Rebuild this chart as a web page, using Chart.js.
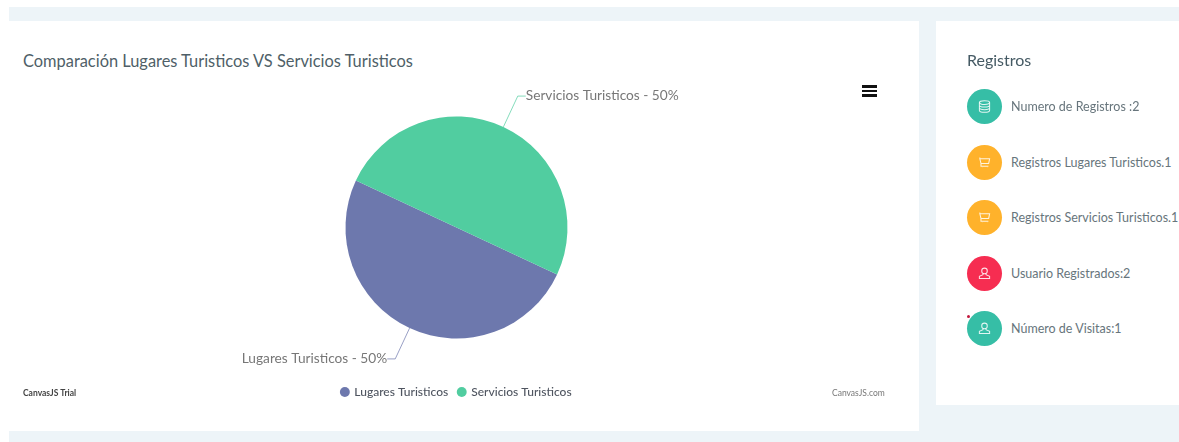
<!DOCTYPE html>
<html lang="es">
<head>
<meta charset="utf-8">
<title>Comparación Lugares Turisticos VS Servicios Turisticos</title>
<script src="https://cdn.jsdelivr.net/npm/chart.js@4/dist/chart.umd.min.js"></script>
<style>
    html, body { margin: 0; padding: 0; background: #fff; overflow: hidden; }
    body { width: 1179px; height: 442px; position: relative; font-family: Lato, "Open Sans", sans-serif; }
    .page-bg { position: absolute; left: 9px; top: 7px; right: 0; bottom: 0; background: #edf4f8; }
    .card { position: absolute; background: #fff; }
    #chartCard { left: 9px; top: 21px; width: 910px; height: 410px; }
    #statsCard { left: 936px; top: 21px; width: 243px; height: 384px; }
    #chartCard h4 { position: absolute; left: 14px; top: 30px; margin: 0; font-size: 16.4px; font-weight: 400; color: #4f5f68; line-height: 20px; white-space: nowrap; }
    #statsCard h4 { position: absolute; left: 31px; top: 29px; margin: 0; font-size: 16px; font-weight: 400; color: #455a64; line-height: 20px; }
    #pieCanvas { position: absolute; left: 0; top: 0; }
    .menu { position: absolute; left: 853px; top: 64px; width: 15px; height: 12px; border-top: 3px solid #111; border-bottom: 3px solid #111; box-sizing: border-box; }
    .menu::after { content: ""; position: absolute; left: 0; right: 0; top: 2px; height: 2px; background: #111; }
    .credit { position: absolute; top: 366px; font-size: 8.5px; line-height: 12px; color: #777; white-space: nowrap; }
    .stat { position: absolute; left: 31px; height: 35px; }
    .stat .dot { position: absolute; left: 0; top: 0; width: 35px; height: 35px; border-radius: 50%; display: flex; align-items: center; justify-content: center; }
    .stat span { position: absolute; left: 44px; top: 8px; font-size: 12.5px; line-height: 19px; color: #67757c; white-space: nowrap; }
    .marker { position: absolute; left: 31px; top: 294px; width: 3px; height: 3px; border-radius: 50%; background: #c2183c; }
</style>
</head>
<body>
<div class="page-bg"></div>

<div class="card" id="chartCard">
    <h4>Comparación Lugares Turisticos VS Servicios Turisticos</h4>
    <canvas id="pieCanvas" width="910" height="410"></canvas>
    <div class="menu"></div>
    <div class="credit" style="left:14px;font-weight:700;color:#444;">CanvasJS Trial</div>
    <div class="credit" style="left:823px;">CanvasJS.com</div>
</div>

<div class="card" id="statsCard">
    <h4>Registros</h4>
    <div id="statList"></div>
    <div class="marker"></div>
</div>

<script>
const categories = ['Lugares Turisticos', 'Servicios Turisticos'];
const values = [1, 1];
const sliceColors = ['#6d78ad', '#51cda0'];

const statLabels = [
    'Numero de Registros :2',
    'Registros Lugares Turisticos.1',
    'Registros Servicios Turisticos.1',
    'Usuario Registrados:2',
    'Número de Visitas:1'
];
const statColors = ['#36bea6', '#ffb22b', '#ffb22b', '#f62d51', '#36bea6'];
const statIcons = ['db', 'cart', 'cart', 'user', 'user'];
const statTops = [68, 124, 179, 235, 290];

const iconPaths = {
    db: '<ellipse cx="7" cy="2.8" rx="5.5" ry="2"/><path d="M1.5 2.8v8.4c0 1.1 2.5 2 5.5 2s5.5-.9 5.5-2V2.8M1.5 5.6c0 1.1 2.5 2 5.5 2s5.5-.9 5.5-2M1.5 8.4c0 1.1 2.5 2 5.5 2s5.5-.9 5.5-2"/>',
    cart: '<path d="M2 3h10.5l-1 5H3.2zM3.2 8v3h8M2 3V1.5M4.5 12.5h.1M10 12.5h.1"/>',
    user: '<circle cx="7" cy="4.2" r="3"/><path d="M5.4 7v1.2L1.5 10v2.5h11V10L8.6 8.2V7"/>'
};

function buildStats() {
    const list = document.getElementById('statList');
    statLabels.forEach((label, i) => {
        const row = document.createElement('div');
        row.className = 'stat';
        row.style.top = statTops[i] + 'px';
        row.innerHTML = `<div class="dot" style="background:${statColors[i]}">
            <svg width="13" height="13" viewBox="0 0 14 14" fill="none" stroke="#fff" stroke-opacity="0.85" stroke-width="1.1">${iconPaths[statIcons[i]]}</svg>
        </div><span>${label}</span>`;
        list.appendChild(row);
    });
}

// Leader lines and "name - percent" labels next to each slice
const sliceLabels = {
    id: 'sliceLabels',
    afterDatasetsDraw(chart) {
        const { ctx } = chart;
        const total = values.reduce((a, b) => a + b, 0);
        chart.getDatasetMeta(0).data.forEach((arc, i) => {
            const mid = (arc.startAngle + arc.endAngle) / 2;
            const dx = Math.cos(mid);
            const dy = Math.sin(mid);
            const side = dx >= 0 ? 1 : -1;
            const elbowX = arc.x + dx * (arc.outerRadius + 34);
            const elbowY = arc.y + dy * (arc.outerRadius + 34);

            ctx.save();
            ctx.strokeStyle = sliceColors[i];
            ctx.globalAlpha = 0.7;
            ctx.lineWidth = 1;
            ctx.beginPath();
            ctx.moveTo(arc.x + dx * arc.outerRadius, arc.y + dy * arc.outerRadius);
            ctx.lineTo(elbowX, elbowY);
            ctx.lineTo(elbowX + side * 8, elbowY);
            ctx.stroke();
            ctx.restore();

            ctx.save();
            ctx.font = '13.7px Lato, sans-serif';
            ctx.fillStyle = '#777';
            ctx.textAlign = side > 0 ? 'left' : 'right';
            ctx.textBaseline = 'middle';
            const pct = Math.round(values[i] / total * 100);
            ctx.fillText(`${categories[i]} - ${pct}%`, elbowX + side * 8, elbowY);
            ctx.restore();
        });
    }
};

function initPieChart() {
    const ctx = document.getElementById('pieCanvas');
    new Chart(ctx.getContext('2d'), {
        type: 'pie',
        data: {
            labels: categories,
            datasets: [{
                data: values,
                backgroundColor: sliceColors,
                borderWidth: 0,
                radius: 111,
                rotation: 115
            }]
        },
        options: {
            responsive: false,
            animation: false,
            layout: { padding: { top: 58, right: 15, bottom: 23, left: 0 } },
            plugins: {
                tooltip: { enabled: false },
                legend: {
                    position: 'bottom',
                    labels: {
                        usePointStyle: true,
                        pointStyle: 'circle',
                        boxWidth: 7,
                        boxHeight: 7,
                        padding: 10,
                        color: '#4f5560',
                        font: { family: 'Lato, sans-serif', size: 12, weight: '500' }
                    }
                }
            }
        },
        plugins: [sliceLabels]
    });
}

document.addEventListener('DOMContentLoaded', function() {
    buildStats();
    initPieChart();
});
</script>
</body>
</html>
